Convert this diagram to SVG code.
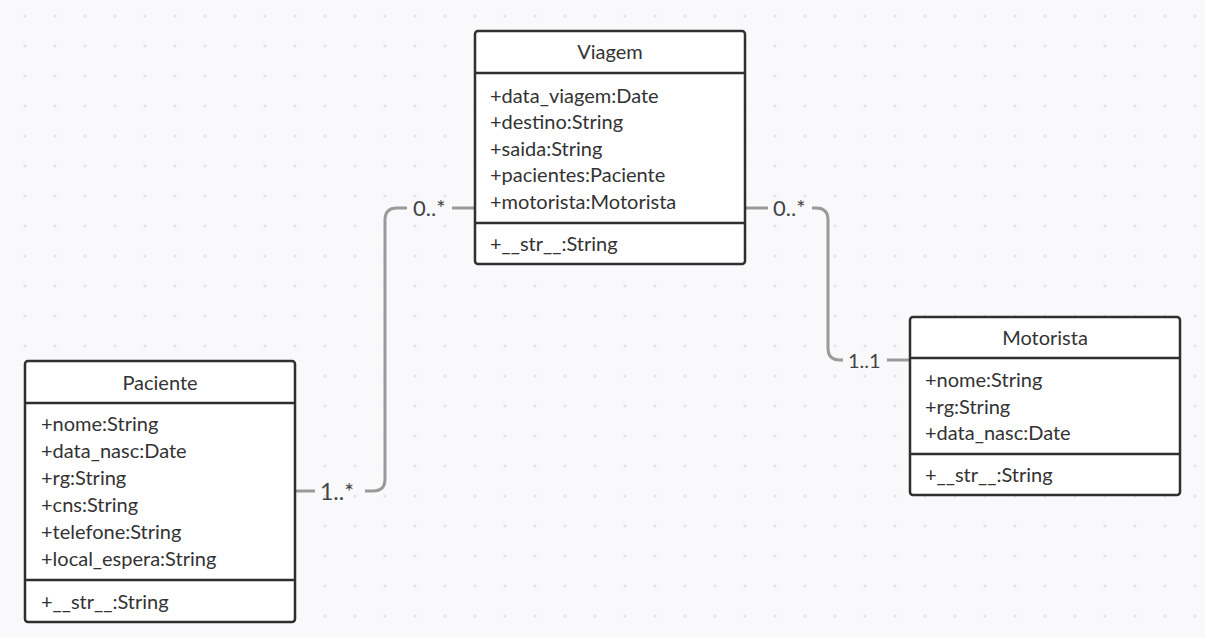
<svg xmlns="http://www.w3.org/2000/svg" width="1205" height="638" viewBox="0 0 1205 638">
<defs>
<pattern id="dots" x="10" y="1" width="30" height="30" patternUnits="userSpaceOnUse">
<circle cx="15" cy="15" r="1.6" fill="#e4e4e8"/>
</pattern>
<style>
.box{fill:#fff;stroke:#2f2f2f;stroke-width:2.5}
.div{stroke:#2f2f2f;stroke-width:2.5}
text{font-family:Lato,"Open Sans","Liberation Sans",sans-serif;font-size:20px;fill:#333}
.t{text-anchor:middle}
.con{fill:none;stroke:#9a9a9a;stroke-width:3}
.lbl{font-size:20px;fill:#444}
</style>
</defs>
<rect width="1205" height="638" fill="#f9f9fb"/>
<rect width="1205" height="638" fill="url(#dots)"/>
<g id="connectors">
<path class="con" d="M295,491 H315"/>
<path class="con" d="M365,491 H373 Q385,491 385,479 V220 Q385,208 397,208 H407"/>
<path class="con" d="M452,208 H475"/>
<text class="lbl" x="320" y="500" style="font-size:23px">1..*</text>
<text class="lbl" x="413" y="216" style="font-size:22px">0..*</text>
<path class="con" d="M745,208 H768"/>
<path class="con" d="M812,208 H816 Q828,208 828,220 V348 Q828,360 840,360 H843"/>
<path class="con" d="M887,360 H910"/>
<text class="lbl" x="773" y="216" style="font-size:22px">0..*</text>
<text class="lbl" x="848" y="368">1..1</text>
</g>
<g id="viagem">
<rect class="box" x="475" y="31" width="270" height="233" rx="3"/>
<line class="div" x1="475" y1="73" x2="745" y2="73"/>
<line class="div" x1="475" y1="223" x2="745" y2="223"/>
<text class="t" x="610" y="59">Viagem</text>
<text x="490" y="103">+data_viagem:Date</text>
<text x="490" y="129">+destino:String</text>
<text x="490" y="156">+saida:String</text>
<text x="490" y="182">+pacientes:Paciente</text>
<text x="490" y="209">+motorista:Motorista</text>
<text x="490" y="251">+__str__:String</text>
</g>
<g id="paciente">
<rect class="box" x="25" y="361" width="270" height="261" rx="3"/>
<line class="div" x1="25" y1="403" x2="295" y2="403"/>
<line class="div" x1="25" y1="580" x2="295" y2="580"/>
<text class="t" x="160" y="390">Paciente</text>
<text x="41" y="431">+nome:String</text>
<text x="41" y="458">+data_nasc:Date</text>
<text x="41" y="485">+rg:String</text>
<text x="41" y="512">+cns:String</text>
<text x="41" y="539">+telefone:String</text>
<text x="41" y="566">+local_espera:String</text>
<text x="41" y="609">+__str__:String</text>
</g>
<g id="motorista">
<rect class="box" x="910" y="317" width="270" height="178" rx="3"/>
<line class="div" x1="910" y1="358" x2="1180" y2="358"/>
<line class="div" x1="910" y1="454" x2="1180" y2="454"/>
<text class="t" x="1045" y="345">Motorista</text>
<text x="925" y="387">+nome:String</text>
<text x="925" y="414">+rg:String</text>
<text x="925" y="440">+data_nasc:Date</text>
<text x="925" y="482">+__str__:String</text>
</g>
</svg>
